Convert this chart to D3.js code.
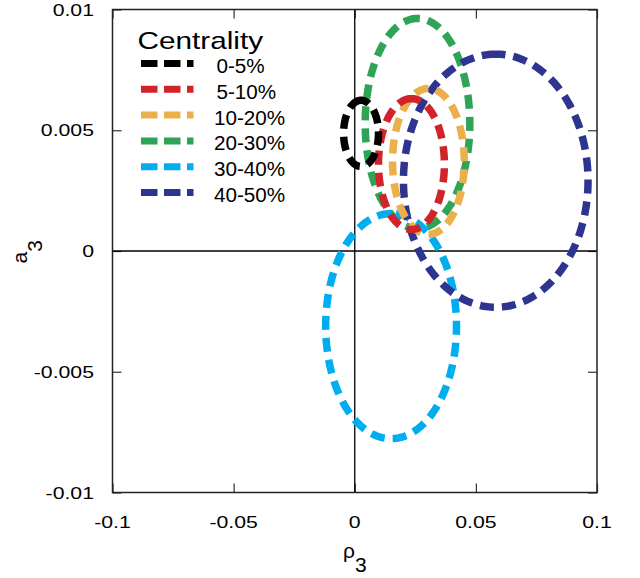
<!DOCTYPE html>
<html>
<head>
<meta charset="utf-8">
<script src="https://cdn.jsdelivr.net/npm/d3@7"></script>
<style>
  html, body { margin: 0; padding: 0; background: #fff; }
  svg { display: block; font-family: "Liberation Sans", Arial, sans-serif; }
</style>
</head>
<body>
<svg id="chart" width="640" height="578"></svg>
<script>
// ---- data ----
const categories = ["0-5%", "5-10%", "10-20%", "20-30%", "30-40%", "40-50%"];
const colors     = ["#000000", "#d1232a", "#ebb04b", "#2fa457", "#00aeef", "#2e3590"];
const centerRho  = [0.0026, 0.0234, 0.0304, 0.0259, 0.0150, 0.0582];
const centerA    = [0.00487, 0.00360, 0.00371, 0.00528, -0.00311, 0.00291];
const radiusRho  = [0.0072, 0.0136, 0.0148, 0.0216, 0.0270, 0.0381];
const radiusA    = [0.00137, 0.00271, 0.00302, 0.00435, 0.00466, 0.00524];
const drawOrder  = [3, 4, 5, 2, 1, 0];
const xTicks = [-0.1, -0.05, 0, 0.05, 0.1];
const xTickLabels = ["-0.1", "-0.05", "0", "0.05", "0.1"];
const yTicks = [0.01, 0.005, 0, -0.005, -0.01];
const yTickLabels = ["0.01", "0.005", "0", "-0.005", "-0.01"];

// ---- layout ----
const svg = d3.select("#chart");
const L = 112.5, R = 597, T = 9.5, B = 492.5;
const x = d3.scaleLinear().domain([-0.1, 0.1]).range([L, R]);
const y = d3.scaleLinear().domain([-0.01, 0.01]).range([B, T]);

// ticks (inward, all four sides)
svg.append("g").attr("transform", `translate(0,${B})`)
  .call(d3.axisBottom(x).tickValues(xTicks).tickSize(-9).tickFormat(""))
  .call(g => g.select(".domain").remove());
svg.append("g").attr("transform", `translate(0,${T})`)
  .call(d3.axisTop(x).tickValues(xTicks).tickSize(-9).tickFormat(""))
  .call(g => g.select(".domain").remove());
svg.append("g").attr("transform", `translate(${L},0)`)
  .call(d3.axisLeft(y).tickValues(yTicks).tickSize(-9).tickFormat(""))
  .call(g => g.select(".domain").remove());
svg.append("g").attr("transform", `translate(${R},0)`)
  .call(d3.axisRight(y).tickValues(yTicks).tickSize(-9).tickFormat(""))
  .call(g => g.select(".domain").remove());
svg.selectAll(".tick line").attr("stroke", "#333").attr("stroke-width", 1.2);

// zero lines
svg.append("line").attr("x1", x(0)).attr("x2", x(0)).attr("y1", T).attr("y2", B)
  .attr("stroke", "#000").attr("stroke-width", 1.3);
svg.append("line").attr("x1", L).attr("x2", R).attr("y1", y(0)).attr("y2", y(0))
  .attr("stroke", "#000").attr("stroke-width", 1.3);

// ellipses
const angles = d3.range(0, 240).map(i => i / 240 * 2 * Math.PI);
const line = d3.line().curve(d3.curveLinearClosed);
const eg = svg.append("g");
drawOrder.forEach(i => {
  const pts = angles.map(t => [
    x(centerRho[i] + radiusRho[i] * Math.cos(t + Math.PI / 2)),
    y(centerA[i] + radiusA[i] * Math.sin(t + Math.PI / 2))
  ]);
  eg.append("path").attr("d", line(pts))
    .attr("fill", "none")
    .attr("stroke", colors[i])
    .attr("stroke-width", 7.5)
    .attr("stroke-dasharray", "14 8");
});

// frame
svg.append("rect").attr("x", L).attr("y", T).attr("width", R - L).attr("height", B - T)
  .attr("fill", "none").attr("stroke", "#222").attr("stroke-width", 1.5);

// stretched text helper
function stretchedText(tx, ty, str, size, sx, anchor) {
  return svg.append("text")
    .attr("transform", `translate(${tx},${ty}) scale(${sx},1)`)
    .attr("text-anchor", anchor)
    .attr("font-size", size)
    .attr("fill", "#000")
    .text(str);
}

// tick labels
xTicks.forEach((v, i) => stretchedText(x(v), 527.5, xTickLabels[i], 17, 1.25, "middle"));
yTicks.forEach((v, i) => stretchedText(94, y(v) + 6, yTickLabels[i], 17, 1.25, "end"));

// axis titles
const xt = svg.append("text").attr("x", 343).attr("y", 558)
  .attr("font-size", 21).attr("fill", "#000");
xt.append("tspan").text("ρ");
xt.append("tspan").attr("dy", 14).text("3");

const yt = svg.append("text")
  .attr("transform", "translate(27,263.5) rotate(-90)")
  .attr("font-size", 21).attr("fill", "#000");
yt.append("tspan").text("a");
yt.append("tspan").attr("dy", 15).text("3");

// legend
stretchedText(137.5, 49, "Centrality", 24, 1.24, "start");
categories.forEach((c, i) => {
  const ly = 63.5 + 25.8 * i;
  svg.append("line").attr("x1", 141).attr("x2", 193.5).attr("y1", ly).attr("y2", ly)
    .attr("stroke", colors[i]).attr("stroke-width", 7)
    .attr("stroke-dasharray", "16.5 6.5");
  stretchedText(i < 2 ? 216.5 : 214, ly + 9.5, c, 19.5, 1.06, "start");
});
</script>
</body>
</html>
